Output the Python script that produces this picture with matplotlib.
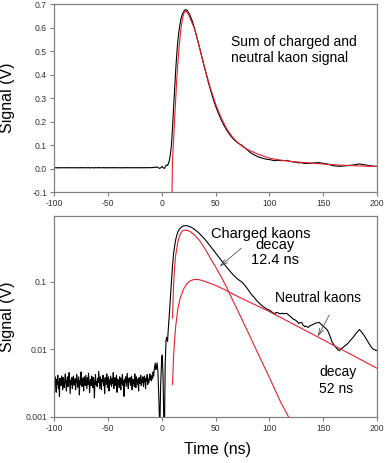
import matplotlib
matplotlib.use("Agg")
import matplotlib.pyplot as plt
import numpy as np

plt.rcParams['font.family'] = ['Liberation Sans', 'DejaVu Sans']

# --- measured trace (V) ---
# pre-trigger baseline, sampled every 0.5 ns from -100 ns, in mV
baseline_mv = [
    3.4, 2.8, 3.9, 3.1, 2.3, 3.6, 3.0, 4.1, 2.6, 3.3, 2.0, 3.7, 3.2, 2.9, 4.0, 3.5, 2.5, 3.8, 3.1, 2.7,
    3.6, 4.3, 3.0, 2.4, 3.4, 3.9, 2.8, 3.2, 4.5, 3.1, 2.2, 3.5, 3.0, 3.8, 2.6, 3.4, 4.0, 2.9, 3.3, 3.7,
    2.5, 3.1, 4.2, 3.6, 2.7, 3.3, 3.9, 2.1, 3.4, 3.0, 4.6, 3.2, 2.8, 3.7, 3.5, 2.4, 3.9, 3.1, 2.9, 4.1,
    3.3, 2.6, 3.8, 3.0, 4.4, 3.5, 2.3, 3.2, 3.6, 2.9, 4.0, 3.4, 2.7, 3.8, 3.1, 1.9, 3.5, 4.2, 3.0, 3.3,
    2.8, 3.7, 3.2, 4.7, 3.4, 2.6, 3.9, 3.1, 2.5, 3.6, 3.3, 4.1, 2.9, 3.5, 2.2, 3.8, 3.0, 3.4, 4.3, 2.7,
    3.2, 3.9, 2.4, 3.5, 3.0, 4.0, 3.3, 2.8, 3.7, 3.1, 4.5, 2.6, 3.4, 3.8, 2.9, 3.2, 4.1, 2.3, 3.6, 3.0,
    3.5, 2.7, 3.9, 3.3, 2.5, 3.7, 3.1, 4.2, 2.9, 3.4, 2.0, 3.6, 3.2, 3.9, 2.8, 3.5, 4.4, 3.0, 2.6, 3.7,
    3.3, 3.8, 2.9, 3.4, 4.0, 2.5, 3.6, 3.1, 3.5, 2.8, 4.3, 3.2, 2.7, 3.9, 3.4, 3.0, 3.6, 2.4, 3.8, 3.3,
    3.1, 4.1, 2.9, 3.6, 3.2, 3.9, 2.8, 3.5, 4.0, 3.3, 2.6, 3.7, 3.4, 4.2, 3.0, 3.6, 3.2, 3.8, 4.3, 3.5,
    3.9, 3.4, 4.1, 3.7, 4.6, 4.0, 5.0, 5.6, 6.2, 5.0,
]
t_base = -100 + 0.5 * np.arange(len(baseline_mv))

# signal after trigger
t_sig = [-5.0, -4.3, -3.5, -2.5, -1.8, -1.0, 0.0, 0.5, 1.2, 2.0, 2.6, 3.2, 4.0, 4.6, 5.4,
         6, 7, 8, 9, 10, 11, 12, 13, 14, 15, 16, 17, 18, 19, 20, 21, 22, 23, 24, 26, 28,
         30, 32, 34, 36, 38, 40, 42, 44, 46, 48, 50, 52, 54, 56, 58, 60, 62, 64, 66, 68,
         70, 72, 74, 76, 78, 80, 82, 84, 86, 88, 90, 92, 94, 96, 98, 100, 102, 104, 105,
         106, 108, 110, 112, 114, 116, 118, 120, 122, 124, 126, 127, 128, 130, 131, 133,
         134, 136, 138, 140, 142, 144, 146, 148, 150, 152, 154, 156, 158, 160, 162, 164,
         165, 166, 168, 170, 172, 174, 176, 178, 180, 182, 183.5, 185, 187, 189, 191, 193,
         195, 196.5, 198, 199, 200]
v_sig = [0.0052, 0.0063, 0.0045, 0.0015, 0.0006, 0.0030, 0.0075, 0.0082, 0.0040, 0.0007,
         0.0008, 0.0060, 0.0135, 0.0150, 0.0130,
         0.019, 0.032, 0.058, 0.100, 0.170, 0.260, 0.340, 0.420, 0.490, 0.545, 0.585,
         0.615, 0.640, 0.655, 0.665, 0.672, 0.676, 0.675, 0.670, 0.655, 0.632,
         0.603, 0.570, 0.535, 0.498, 0.462, 0.425, 0.390, 0.355, 0.323, 0.293, 0.266,
         0.242, 0.220, 0.200, 0.182, 0.166, 0.152, 0.139, 0.128, 0.119,
         0.111, 0.105, 0.100, 0.093, 0.085, 0.077, 0.069, 0.063, 0.058, 0.053, 0.049,
         0.046, 0.043, 0.041, 0.039, 0.038, 0.036, 0.034, 0.033,
         0.035, 0.0345, 0.0335, 0.034, 0.0335, 0.034, 0.032, 0.030, 0.028, 0.027, 0.0255,
         0.024, 0.0245, 0.025, 0.023, 0.0215,
         0.022, 0.021, 0.0225, 0.023, 0.024, 0.0245, 0.025, 0.0235, 0.022, 0.0205, 0.019,
         0.016, 0.013, 0.0115, 0.0105, 0.0097,
         0.0095, 0.0100, 0.0105, 0.0112, 0.0118, 0.0128, 0.0140, 0.0152, 0.0168, 0.0183,
         0.0195, 0.0185, 0.0168, 0.0150, 0.0132, 0.0118,
         0.0105, 0.0100, 0.0098, 0.0095, 0.0097]

t_data = np.concatenate([t_base, t_sig])
v_data = np.concatenate([np.array(baseline_mv) / 1000.0, v_sig])

# --- fits ---
t_sum = [9.2, 10, 11, 12, 13, 14, 15, 16, 17, 18, 19, 20, 21, 22, 23, 24, 26, 28, 30, 32,
         35, 40, 45, 50, 55, 60, 65, 70, 75, 80, 90, 100, 110, 120, 140, 160, 180, 200]
v_sum = [-0.2, 0.035, 0.12, 0.21, 0.30, 0.38, 0.45, 0.51, 0.56, 0.60, 0.63, 0.652, 0.665,
         0.670, 0.668, 0.662, 0.643, 0.620, 0.600, 0.568, 0.515, 0.425, 0.345, 0.275,
         0.218, 0.172, 0.138, 0.112, 0.094, 0.080, 0.060, 0.044, 0.036, 0.030, 0.0225,
         0.0158, 0.0115, 0.0085]

t_charged = [10, 11, 12, 13, 15, 17, 19, 21, 23, 26, 30, 35, 40, 45, 50, 55, 60, 65, 70,
             80, 90, 100, 110, 120]
v_charged = [0.029, 0.09, 0.17, 0.25, 0.39, 0.50, 0.56, 0.58, 0.575, 0.56, 0.50, 0.41,
             0.31, 0.225, 0.165, 0.12, 0.084, 0.057, 0.039, 0.018, 0.0082, 0.0038,
             0.0017, 0.00085]

t_neutral = [10, 11, 12, 13, 15, 17, 20, 23, 26, 30, 35, 40, 50, 60, 70, 80, 90, 100,
             120, 140, 160, 180, 200]
v_neutral = [0.003, 0.008, 0.014, 0.022, 0.040, 0.056, 0.076, 0.092, 0.102, 0.108, 0.107,
             0.101, 0.088, 0.074, 0.061, 0.051, 0.043, 0.036, 0.0245, 0.0167, 0.0113,
             0.0077, 0.0052]

x_ticks = [-100, -50, 0, 50, 100, 150, 200]
lin_ticks = [-0.1, 0.0, 0.1, 0.2, 0.3, 0.4, 0.5, 0.6, 0.7]
log_ticks = [0.001, 0.01, 0.1]
log_labels = ['0.001', '0.01', '0.1']

RED = '#e8202a'
SPINE = '#808080'

fig = plt.figure(figsize=(3.86, 4.63), dpi=100)
ax1 = fig.add_axes([0.140, 0.5853, 0.837, 0.406])
ax2 = fig.add_axes([0.140, 0.1000, 0.837, 0.4335])

for ax in (ax1, ax2):
    for s in ax.spines.values():
        s.set_color(SPINE)
        s.set_linewidth(0.9)
    ax.tick_params(direction='out', length=3, width=0.8, color=SPINE,
                   labelsize=6.2, labelcolor='#333333', pad=2)
    ax.set_xlim(-100, 200)
    ax.set_xticks(x_ticks)
    ax.set_xticklabels([str(v) for v in x_ticks])

# top: linear
ax1.plot(t_data, v_data, color='black', lw=0.8)
ax1.plot(t_sum, v_sum, color=RED, lw=0.8)
ax1.set_ylim(-0.1, 0.7)
ax1.set_yticks(lin_ticks)
ax1.set_yticklabels([f"{v:.1f}" for v in lin_ticks])
ax1.set_ylabel('Signal (V)', fontsize=11.5)
ax1.yaxis.set_label_coords(-0.121, 0.5)
ax1.text(64.5, 0.504, 'Sum of charged and\nneutral kaon signal', fontsize=10,
         ha='left', va='center', linespacing=1.15)

# bottom: log
ax2.plot(t_data, v_data, color='black', lw=0.8)
ax2.plot(t_charged, v_charged, color=RED, lw=0.8)
ax2.plot(t_neutral, v_neutral, color=RED, lw=0.8)
ax2.set_yscale('log')
ax2.set_ylim(0.001, 0.94)
ax2.set_yticks(log_ticks)
ax2.set_yticklabels(log_labels)
ax2.set_yticks([], minor=True)
ax2.set_ylabel('Signal (V)', fontsize=11.5)
ax2.yaxis.set_label_coords(-0.121, 0.5)
ax2.set_xlabel('Time (ns)', fontsize=11.5)
ax2.xaxis.set_label_coords(0.505, -0.126)

arrow = dict(arrowstyle='->,head_length=0.5,head_width=0.15', color='#555555', lw=0.6,
             shrinkA=0, shrinkB=0)
ax2.text(92, 0.51, 'Charged kaons', fontsize=10.5, ha='center', va='center')
ax2.text(105.5, 0.27, 'decay\n12.4 ns', fontsize=10.5, ha='center', va='center',
         linespacing=1.1)
ax2.annotate('', xy=(53.7, 0.167), xytext=(73.8, 0.313), arrowprops=arrow)
ax2.text(145.4, 0.0583, 'Neutral kaons', fontsize=10, ha='center', va='center')
ax2.annotate('', xy=(144.7, 0.0153), xytext=(155.6, 0.0321), arrowprops=arrow)
ax2.text(146, 0.0034, 'decay\n52 ns', fontsize=10, ha='left', va='center',
         linespacing=1.3)

fig.savefig('out.png', dpi=100)
